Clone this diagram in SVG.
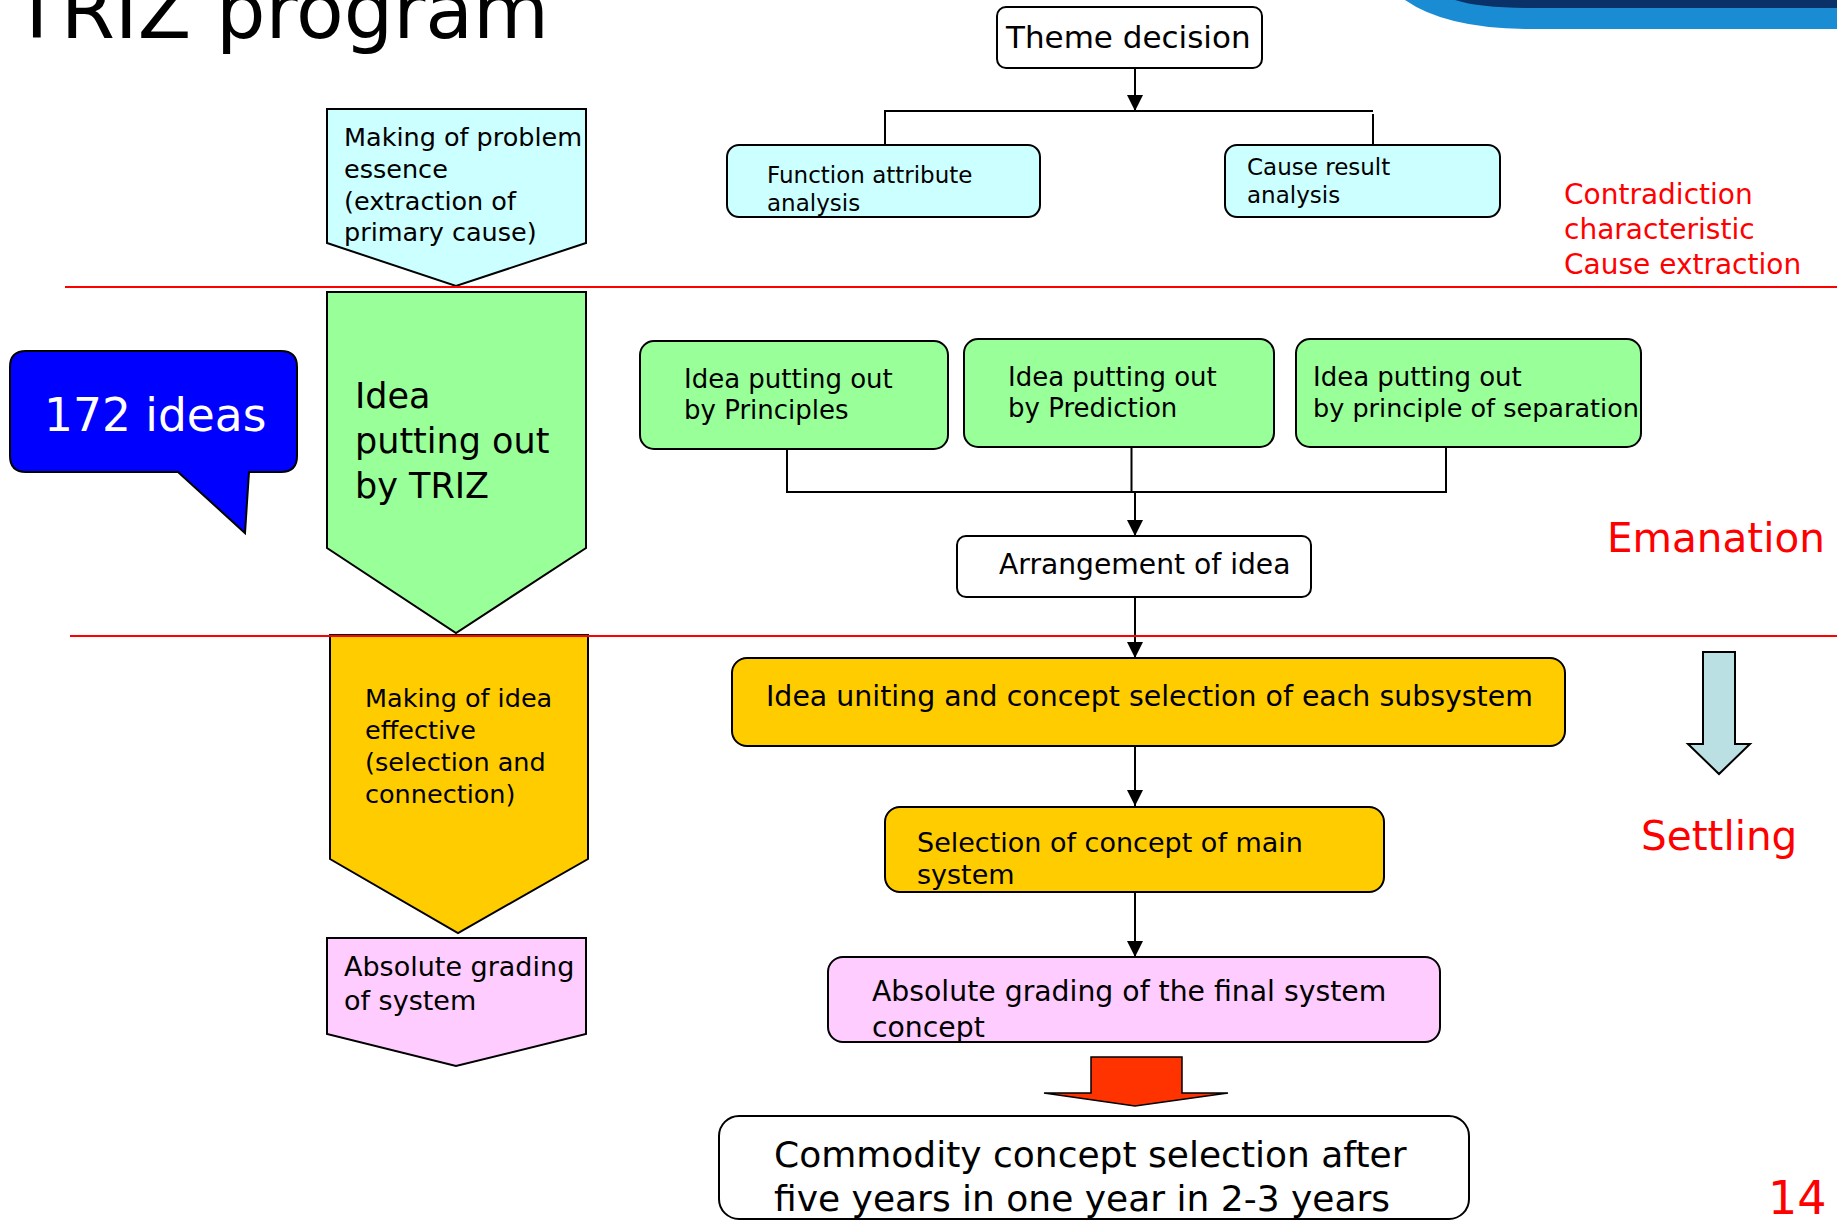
<svg xmlns="http://www.w3.org/2000/svg" width="1837" height="1221" viewBox="0 0 1837 1221">
<style>
text{font-family:"DejaVu Sans","Liberation Sans",sans-serif;fill:#000}
.red{fill:#FF0000}
.box{stroke:#000;stroke-width:2}
.cyan{fill:#CCFFFF}
.green{fill:#99FF99}
.yellow{fill:#FFCC00}
.pink{fill:#FFCCFF}
.white{fill:#FFFFFF}
.conn{fill:none;stroke:#000;stroke-width:2}
.rule{stroke:#FF0000;stroke-width:2}
</style>
<defs>
<marker id="ah" viewBox="0 0 16 16" refX="16" refY="8" markerWidth="16" markerHeight="16" markerUnits="userSpaceOnUse" orient="auto">
<path d="M0,0 L16,8 L0,16 Z" fill="#000"/>
</marker>
</defs>
<rect width="1837" height="1221" fill="#FFFFFF"/>

<!-- decoration top right -->
<path d="M1405,0 Q1445,28 1525,29 L1837,29 L1837,0 Z" fill="#1A8CD4"/>
<path d="M1455,0 Q1480,8 1530,8 L1837,8 L1837,0 Z" fill="#0B3268"/>

<!-- title -->
<text x="13" y="38" font-size="78">TRIZ program</text>

<!-- connectors -->
<g id="connectors">
<path class="conn" d="M1135,68 V111" marker-end="url(#ah)"/>
<path class="conn" d="M885,145 V111 H1373"/>
<path class="conn" d="M1373,114 V145"/>
<path class="conn" d="M787,449 V492 H1446 V447"/>
<path class="conn" d="M1131.5,447 V492"/>
<path class="conn" d="M1135,492 V536" marker-end="url(#ah)"/>
<path class="conn" d="M1135,597 V658" marker-end="url(#ah)"/>
<path class="conn" d="M1135,746 V806" marker-end="url(#ah)"/>
<path class="conn" d="M1135,892 V957" marker-end="url(#ah)"/>
<polygon points="1091,1057 1182,1057 1182,1093 1228,1093 1135,1106 1044,1093 1091,1093" fill="#FF3300" stroke="#000" stroke-width="1.5"/>
</g>

<!-- left column -->
<g id="n-problem-essence">
<polygon class="box cyan" points="327,109 586,109 586,243 456,286 327,243"/>
<text x="344" y="146" font-size="25.5">Making of problem</text>
<text x="344" y="178" font-size="25.5">essence</text>
<text x="344" y="210" font-size="25.5">(extraction of</text>
<text x="344" y="241" font-size="25.5">primary cause)</text>
</g>

<g id="n-idea-triz">
<polygon class="box green" points="327,292 586,292 586,548 456,633 327,548"/>
<text x="355" y="408" font-size="35">Idea</text>
<text x="355" y="453" font-size="35">putting out</text>
<text x="355" y="498" font-size="35">by TRIZ</text>
</g>

<g id="n-idea-effective">
<polygon class="box yellow" points="330,635 588,635 588,859 458,933 330,859"/>
<text x="365" y="707" font-size="25.5">Making of idea</text>
<text x="365" y="739" font-size="25.5">effective</text>
<text x="365" y="771" font-size="25.5">(selection and</text>
<text x="365" y="803" font-size="25.5">connection)</text>
</g>

<g id="n-abs-grading-system">
<polygon class="box pink" points="327,938 586,938 586,1034 456,1066 327,1034"/>
<text x="344" y="976" font-size="27">Absolute grading</text>
<text x="344" y="1010" font-size="27">of system</text>
</g>

<g id="n-172-ideas">
<path d="M26,351 H281 Q297,351 297,367 V456 Q297,472 281,472 H249 L245,533 L178,472 H26 Q10,472 10,456 V367 Q10,351 26,351 Z" fill="#0000FF" stroke="#000" stroke-width="2"/>
<text x="44" y="431" font-size="45.5" style="fill:#FFFFFF">172 ideas</text>
</g>

<!-- main flow -->
<g id="n-theme">
<rect class="box white" x="997" y="7" width="265" height="61" rx="9"/>
<text x="1006" y="48" font-size="31">Theme decision</text>
</g>

<g id="n-function">
<rect class="box cyan" x="727" y="145" width="313" height="72" rx="12"/>
<text x="767" y="183" font-size="23">Function attribute</text>
<text x="767" y="211" font-size="23">analysis</text>
</g>

<g id="n-cause">
<rect class="box cyan" x="1225" y="145" width="275" height="72" rx="12"/>
<text x="1247" y="175" font-size="23">Cause result</text>
<text x="1247" y="203" font-size="23">analysis</text>
</g>

<g id="n-principles">
<rect class="box green" x="640" y="341" width="308" height="108" rx="14"/>
<text x="684" y="388" font-size="26">Idea putting out</text>
<text x="684" y="419" font-size="26">by Principles</text>
</g>

<g id="n-prediction">
<rect class="box green" x="964" y="339" width="310" height="108" rx="14"/>
<text x="1008" y="386" font-size="26">Idea putting out</text>
<text x="1008" y="417" font-size="26">by Prediction</text>
</g>

<g id="n-separation">
<rect class="box green" x="1296" y="339" width="345" height="108" rx="14"/>
<text x="1313" y="386" font-size="26">Idea putting out</text>
<text x="1313" y="417" font-size="25.5">by principle of separation</text>
</g>

<g id="n-arrangement">
<rect class="box white" x="957" y="536" width="354" height="61" rx="9"/>
<text x="999" y="574" font-size="28.2">Arrangement of idea</text>
</g>

<g id="n-uniting">
<rect class="box yellow" x="732" y="658" width="833" height="88" rx="15"/>
<text x="766" y="706" font-size="28.4">Idea uniting and concept selection of each subsystem</text>
</g>

<g id="n-main-system">
<rect class="box yellow" x="885" y="807" width="499" height="85" rx="15"/>
<text x="917" y="852" font-size="27">Selection of concept of main</text>
<text x="917" y="884" font-size="27">system</text>
</g>

<g id="n-final-grading">
<rect class="box pink" x="828" y="957" width="612" height="85" rx="15"/>
<text x="872" y="1001" font-size="28.3">Absolute grading of the final system</text>
<text x="872" y="1037" font-size="28.3">concept</text>
</g>

<g id="n-commodity">
<rect class="box white" x="719" y="1116" width="750" height="103" rx="20"/>
<text x="774" y="1167" font-size="36">Commodity concept selection after</text>
<text x="774" y="1211" font-size="36">five years in one year in 2-3 years</text>
</g>

<!-- phase rules and labels -->
<line class="rule" x1="65" y1="287" x2="1837" y2="287"/>
<line class="rule" x1="70" y1="636" x2="1837" y2="636"/>

<g id="n-contradiction">
<text class="red" x="1564" y="204" font-size="28">Contradiction</text>
<text class="red" x="1564" y="239" font-size="28">characteristic</text>
<text class="red" x="1564" y="274" font-size="28">Cause extraction</text>
</g>
<g id="n-emanation">
<text class="red" x="1607" y="552" font-size="40.5">Emanation</text>
</g>
<g id="n-settling">
<polygon points="1703,652 1735,652 1735,744 1750,744 1719,774 1688,744 1703,744" fill="#BBE0E3" stroke="#000" stroke-width="2"/>
<text class="red" x="1641" y="850" font-size="40.5">Settling</text>
</g>
<text class="red" x="1768" y="1214" font-size="46">14</text>
</svg>
